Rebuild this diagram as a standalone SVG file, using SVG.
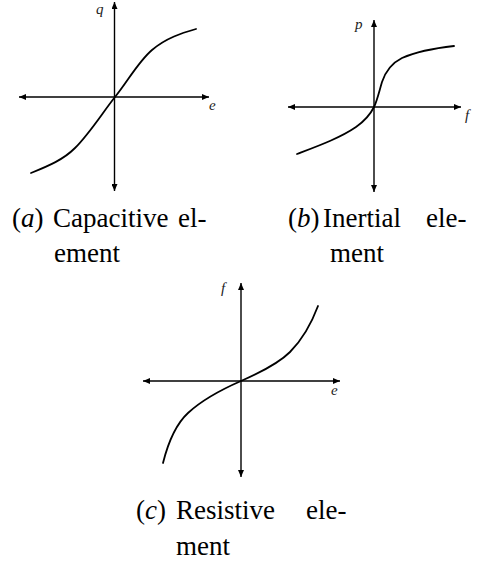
<svg xmlns="http://www.w3.org/2000/svg" width="478" height="567" viewBox="0 0 478 567">
  <style>
    .axis { stroke: #000; stroke-width: 1.4; fill: none; marker-start: url(#arr); marker-end: url(#arr); }
    .curve { stroke: #000; stroke-width: 1.8; fill: none; stroke-linecap: round; }
    .lbl { font-family: "Liberation Serif", "DejaVu Serif", serif; font-style: italic; font-size: 15px; fill: #222; }
    .cap { font-family: "Liberation Serif", "DejaVu Serif", serif; font-size: 27px; fill: #000; }
    .it { font-style: italic; }
  </style>
  <defs>
    <marker id="arr" markerUnits="userSpaceOnUse" markerWidth="8" markerHeight="6" refX="7" refY="3" orient="auto-start-reverse">
      <path d="M0,0 L7,3 L0,6 z" fill="#000"/>
    </marker>
  </defs>

  <g id="panel-a">
    <line class="axis" x1="114.5" y1="191" x2="114.5" y2="2"/>
    <line class="axis" x1="19" y1="97" x2="209" y2="97"/>
    <path class="curve" d="M31,173 C48,166 63,160 75,148 C90,133 103,112 115,97 C128,81 138,62 152,50 C166,38 182,33 196,29"/>
    <text class="lbl" x="96" y="14">q</text>
    <text class="lbl" x="209" y="110">e</text>
    <text class="cap" y="227"><tspan x="12">(<tspan class="it">a</tspan>)</tspan><tspan x="53">Capacitive</tspan><tspan x="178">el-</tspan></text>
    <text class="cap" x="54" y="262">ement</text>
  </g>

  <g id="panel-b">
    <line class="axis" x1="374" y1="192" x2="374" y2="20"/>
    <line class="axis" x1="288" y1="107" x2="461" y2="107"/>
    <path class="curve" d="M297,154 C318,146 340,138 356,127 C366,120 371,113 374,107 C377,101 379,92 382,82 C386,70 392,63 402,58 C418,51 436,48 454,46"/>
    <text class="lbl" x="355" y="29">p</text>
    <text class="lbl" x="465" y="120">f</text>
    <text class="cap" y="227"><tspan x="288">(<tspan class="it">b</tspan>)</tspan><tspan x="323">Inertial</tspan><tspan x="426">ele-</tspan></text>
    <text class="cap" x="330" y="262">ment</text>
  </g>

  <g id="panel-c">
    <line class="axis" x1="241" y1="477" x2="241" y2="283"/>
    <line class="axis" x1="143" y1="381" x2="340" y2="381"/>
    <path class="curve" d="M163,463 C168,443 175,425 188,413 C203,399 225,388 241,381 C257,374 278,364 290,352 C302,340 312,322 318,306"/>
    <text class="lbl" x="221" y="293">f</text>
    <text class="lbl" x="331" y="395">e</text>
    <text class="cap" y="519"><tspan x="136">(<tspan class="it">c</tspan>)</tspan><tspan x="176">Resistive</tspan><tspan x="306">ele-</tspan></text>
    <text class="cap" x="176" y="555">ment</text>
  </g>
</svg>
